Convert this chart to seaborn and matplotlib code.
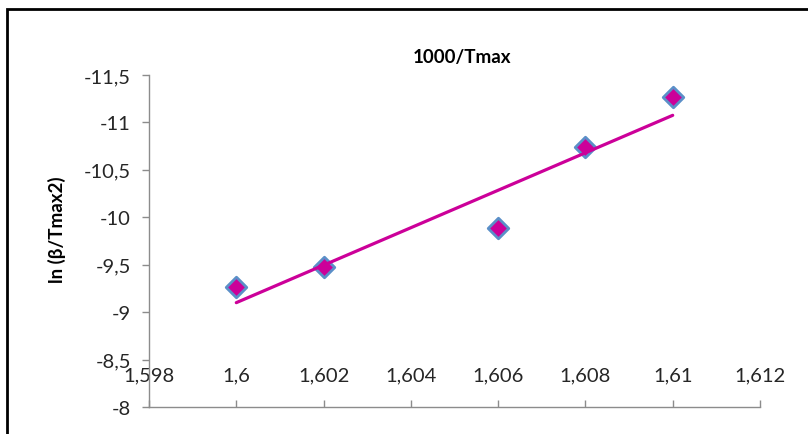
import numpy as np
import pandas as pd
import matplotlib
matplotlib.use("Agg")
import matplotlib.pyplot as plt
import seaborn as sns
from matplotlib.patches import Rectangle

# Datos
x_vals = [1.600, 1.602, 1.606, 1.608, 1.610]
y_vals = [-9.26, -9.48, -9.885, -10.74, -11.27]

x_ticks = [1.598, 1.600, 1.602, 1.604, 1.606, 1.608, 1.610, 1.612]
x_tick_labels = ["1,598", "1,6", "1,602", "1,604", "1,606", "1,608", "1,61", "1,612"]
y_ticks = [-11.5, -11, -10.5, -10, -9.5, -9, -8.5, -8]
y_tick_labels = ["-11,5", "-11", "-10,5", "-10", "-9,5", "-9", "-8,5", "-8"]

df = pd.DataFrame({"x": x_vals, "y": y_vals})

sns.set_theme(style="white")
plt.rcParams["font.family"] = ["Lato", "DejaVu Sans"]

fig = plt.figure(figsize=(8.08, 4.35), dpi=100)
ax = fig.add_axes([149 / 808, 27 / 435, (760 - 149) / 808, (408 - 76) / 435])

# Puntos
sns.scatterplot(data=df, x="x", y="y", marker="D", s=110, color="#CC0099",
                edgecolor="#5B8FC8", linewidth=2, ax=ax, zorder=2)

# Línea de tendencia
sns.regplot(data=df, x="x", y="y", scatter=False, ci=None, ax=ax,
            line_kws={"color": "#CC0099", "linewidth": 2.3, "zorder": 3})

ax.set_xlim(1.598, 1.612)
ax.set_ylim(-8, -11.5)

ax.set_xticks(x_ticks)
ax.set_xticklabels(x_tick_labels)
ax.set_yticks(y_ticks)
ax.set_yticklabels(y_tick_labels)

ax.tick_params(axis="x", direction="in", length=5, width=1, color="#8C8C8C",
               labelsize=14.5, pad=-29, labelcolor="#262626", bottom=True)
ax.tick_params(axis="y", direction="out", length=5, width=1, color="#8C8C8C",
               labelsize=14.5, pad=8, labelcolor="#262626", left=True)

for side in ["top", "right"]:
    ax.spines[side].set_visible(False)
for side in ["left", "bottom"]:
    ax.spines[side].set_color("#8C8C8C")
    ax.spines[side].set_linewidth(1)

ax.set_xlabel("")
ax.set_ylabel("")
ax.grid(False)

fig.text(462 / 808, 1 - 57 / 435, "1000/Tmax", ha="center", va="center",
         fontsize=13.5, fontweight="bold", color="black")
fig.text(57 / 808, 1 - 230 / 435, "ln (β/Tmax2)", ha="center", va="center",
         rotation=90, fontsize=13.5, fontweight="bold", color="black")

# Marco exterior
fig.patches.append(Rectangle((7 / 808, -0.1), 1.2, 1 - 10 / 435 + 0.1,
                             transform=fig.transFigure, fill=False,
                             edgecolor="black", linewidth=2))

fig.savefig("out.png", dpi=100)
